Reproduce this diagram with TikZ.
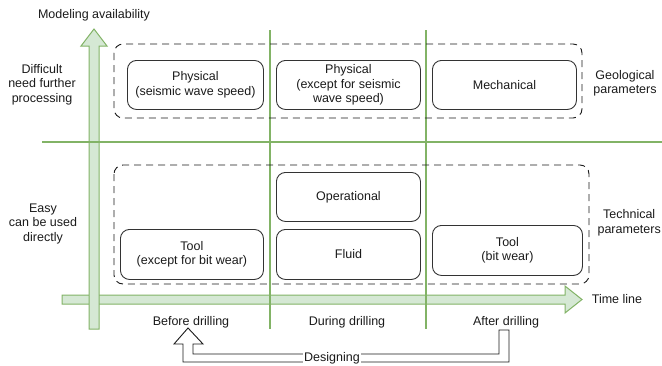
\documentclass[tikz,border=0pt]{standalone}
\usepackage{fontspec}
\setmainfont{Liberation Sans}
\definecolor{gline}{HTML}{82B366}
\definecolor{gfill}{HTML}{D5E8D4}
\definecolor{ink}{HTML}{1A1A1A}
\definecolor{boxline}{HTML}{333333}
\begin{document}
\begin{tikzpicture}[x=1pt,y=-1pt,
  txt/.style={font=\fontsize{12.5}{14.5}\selectfont, text=ink, align=center, inner sep=0pt},
  param/.style={rounded corners=9pt, draw=boxline, line width=0.9pt, txt, anchor=north west},
  group/.style={rounded corners=9pt, draw=ink, line width=0.9pt, dash pattern=on 7pt off 5pt},
  axis/.style={draw=gline, fill=gfill, line width=1pt, line join=miter},
  divider/.style={draw=gline, line width=1.4pt},
  hollow/.style={draw=ink, line width=0.9pt, fill=white, line join=miter}]
\useasboundingbox (0,0) rectangle (662,365);

% axes: modelling availability (up) and time line (right)
\path[axis] (62,295) -- (565,295) -- (565,286) -- (582,299.5) -- (565,313) -- (565,304) -- (62,304) -- cycle;
\path[axis] (89,329) -- (89,46) -- (81,46) -- (94,29) -- (107,46) -- (99,46) -- (99,329) -- cycle;

% grid dividers
\draw[divider] (42,142) -- (662,142);
\draw[divider] (270,30) -- (270,329);
\draw[divider] (426,30) -- (426,329);

% parameter groups
\draw[group] (114,44) rectangle (582,118);
\draw[group] (114,165) rectangle (589,284);

% geological parameters
\node[param, minimum width=136pt, minimum height=49pt] (phys1) at (127,60) {Physical\\(seismic wave speed)};
\node[param, minimum width=144pt, minimum height=49pt] (phys2) at (276,60) {Physical\\(except for seismic\\wave speed)};
\node[param, minimum width=144pt, minimum height=49pt] (mech) at (432,60) {Mechanical};

% technical parameters
\node[param, minimum width=143pt, minimum height=50pt] (tool1) at (120,229) {Tool\\(except for bit wear)};
\node[param, minimum width=144pt, minimum height=49pt] (oper) at (276,172) {Operational};
\node[param, minimum width=144pt, minimum height=50pt] (fluid) at (276,229) {Fluid};
\node[param, minimum width=150pt, minimum height=50pt] (tool2) at (432,225) {Tool\\(bit wear)};

% axis and row labels
\node[txt] (ylab) at (94,15) {Modeling availability};
\node[txt] (hard) at (42,84.5) {Difficult\\need further\\processing};
\node[txt] (easy) at (43,223.5) {Easy\\can be used\\directly};
\node[txt] (geo) at (625,83.5) {Geological\\parameters};
\node[txt, anchor=east] (tech) at (661,223) {Technical\\parameters};
\node[txt] (xlab) at (617,299) {Time line};
\node[txt] (before) at (191,322) {Before drilling};
\node[txt] (during) at (347,322) {During drilling};
\node[txt] (after) at (506,322) {After drilling};

% designing feedback arrow from after drilling back to before drilling
\path[hollow] (188,328) -- (203,344) -- (193,344) -- (193,354) -- (499,354) -- (499,330)
  -- (509,330) -- (509,362) -- (183,362) -- (183,344) -- (174,344) -- cycle;
\node[txt, fill=white, inner xsep=1.5pt, inner ysep=2pt] (design) at (332,358) {Designing};
\end{tikzpicture}
\end{document}
